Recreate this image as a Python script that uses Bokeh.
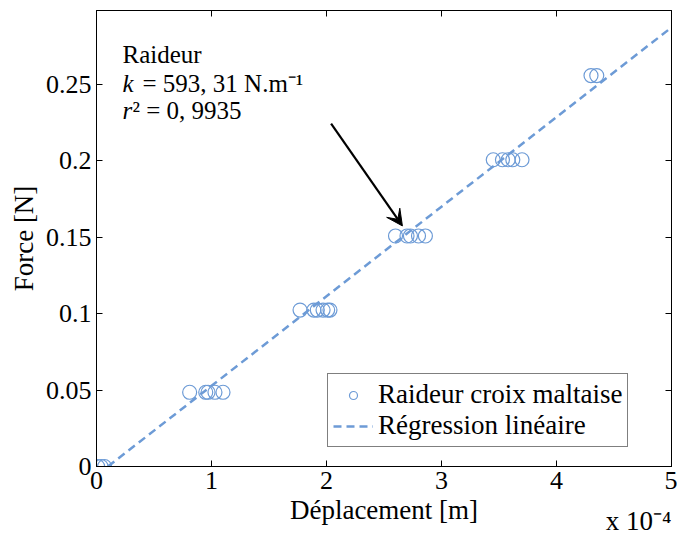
from bokeh.plotting import figure
from bokeh.models import (Range1d, FixedTicker, LinearAxis, Label, Arrow, VeeHead,
                          Legend, LegendItem, Title)
from bokeh.embed import file_html
from bokeh.resources import INLINE

# ---- data (displacement in units of 1e-4 m, force in N) ----
disp_e4 = [0.01, 0.04, 0.07,
           0.81, 0.95, 0.97, 1.03, 1.10,
           1.77, 1.89, 1.92, 1.97, 2.01, 2.03,
           2.60, 2.70, 2.73, 2.80, 2.86,
           3.45, 3.53, 3.58, 3.62, 3.70,
           4.30, 4.35]
force = [0.0, 0.0, 0.0,
         0.0486, 0.0486, 0.0486, 0.0486, 0.0486,
         0.1024, 0.1024, 0.1024, 0.1024, 0.1024, 0.1024,
         0.1509, 0.1509, 0.1509, 0.1509, 0.1509,
         0.2008, 0.2008, 0.2008, 0.2008, 0.2008,
         0.2559, 0.2559]
reg_x = [0.10, 5.0]
reg_y = [0.0, 0.2874]

x_ticks = [0, 1, 2, 3, 4, 5]
y_ticks = [0, 0.05, 0.10, 0.15, 0.20, 0.25]
y_tick_labels = ["0", "0.05", "0.1", "0.15", "0.2", "0.25"]

arrow_start = (2.04, 0.2244)
arrow_end = (2.66, 0.1575)

BLUE = "#6d9bd6"
SERIF = "Liberation Serif"

p = figure(frame_width=575, frame_height=456, min_border_left=96, min_border_right=6,
           min_border_top=10, min_border_bottom=69,
           x_range=Range1d(0, 5), y_range=Range1d(0, 0.2985),
           output_backend="svg", toolbar_location=None)
p.xgrid.visible = False
p.ygrid.visible = False
p.outline_line_color = "black"
p.outline_line_width = 1
p.background_fill_color = "white"

for ax in (p.xaxis[0], p.yaxis[0]):
    ax.major_tick_in = 6
    ax.major_tick_out = 0
    ax.minor_tick_in = 0
    ax.minor_tick_out = 0
    ax.major_label_text_font = SERIF
    ax.major_label_text_font_size = "26px"
    ax.major_label_text_color = "black"
    ax.axis_label_text_font = SERIF
    ax.axis_label_text_font_size = "27px"
    ax.axis_label_text_font_style = "normal"
    ax.axis_label_text_color = "black"
    ax.axis_line_color = "black"
    ax.major_tick_line_color = "black"

p.xaxis[0].ticker = FixedTicker(ticks=x_ticks)
p.yaxis[0].ticker = FixedTicker(ticks=y_ticks)
p.yaxis[0].major_label_overrides = {t: l for t, l in zip(y_ticks, y_tick_labels)}
p.xaxis[0].axis_label = "Déplacement [m]"
p.yaxis[0].axis_label = "Force [N]"
p.xaxis[0].major_label_standoff = 5
p.yaxis[0].major_label_standoff = 5
p.xaxis[0].axis_label_standoff = 3
p.yaxis[0].axis_label_standoff = 4

# extra axes for ticks on top/right (no labels)
top = LinearAxis(ticker=FixedTicker(ticks=x_ticks), major_tick_in=6, major_tick_out=0,
                 minor_tick_in=0, minor_tick_out=0,
                 major_label_overrides={t: "" for t in x_ticks},
                 major_label_standoff=0, axis_line_color="black")
right = LinearAxis(ticker=FixedTicker(ticks=y_ticks), major_tick_in=6, major_tick_out=0,
                   minor_tick_in=0, minor_tick_out=0,
                   major_label_overrides={t: "" for t in y_ticks},
                   major_label_standoff=0, axis_line_color="black")
p.add_layout(top, "above")
p.add_layout(right, "right")

# exponent of the x axis, as a title under the axis
p.add_layout(Title(text="x 10⁻⁴", align="right", vertical_align="top", standoff=-44,
                   text_font=SERIF, text_font_size="27px", text_font_style="normal",
                   text_color="black"), "below")

sc = p.scatter(disp_e4, force, marker="circle", size=14, fill_color=None,
               line_color=BLUE, line_width=1.2)
ln = p.line(reg_x, reg_y, line_color=BLUE, line_width=2.5, line_dash="8 5")

legend = Legend(items=[LegendItem(label="Raideur croix maltaise", renderers=[sc]),
                       LegendItem(label="Régression linéaire", renderers=[ln])],
                location=(231, 19), label_text_font=SERIF, label_text_font_size="27px",
                label_text_font_style="normal", label_text_color="black",
                glyph_width=40, glyph_height=20, label_height=31, label_standoff=5,
                spacing=0, padding=5, margin=0, border_line_color="black",
                border_line_width=1, background_fill_alpha=1.0)
p.add_layout(legend, "center")

p.add_layout(Arrow(end=VeeHead(size=16, fill_color="black", line_color="black"),
                   x_start=arrow_start[0], y_start=arrow_start[1],
                   x_end=arrow_end[0], y_end=arrow_end[1],
                   line_width=2.2, line_color="black"))

def lab(x, y, text, size="25px", style="normal"):
    p.add_layout(Label(x=x, y=y, x_units="screen", y_units="screen", text=text,
                       text_font=SERIF, text_font_size=size, text_font_style=style,
                       text_color="black", text_baseline="alphabetic"))

lab(26, 412, "Raideur")
lab(26, 383, "k", style="italic")
lab(46, 383, "= 593, 31 N.m⁻¹")
lab(26, 356, "r", style="italic")
lab(36, 356, "² = 0, 9935")

open("out.html", "w").write(file_html(p, INLINE))
